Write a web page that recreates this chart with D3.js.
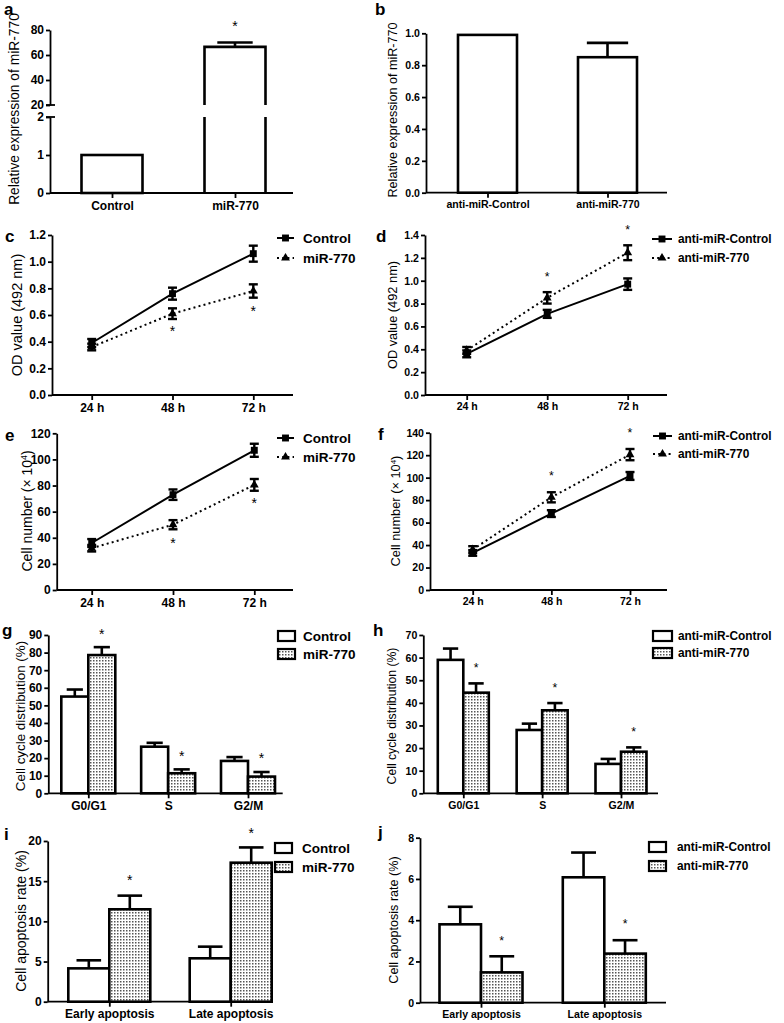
<!DOCTYPE html>
<html><head><meta charset="utf-8">
<script src="https://cdn.jsdelivr.net/npm/d3@7"></script>
<style>
body{margin:0;background:#fff}
svg text{font-family:"Liberation Sans",Arial,Helvetica,sans-serif;fill:#000}
</style>
</head><body>
<svg id="chart" width="784" height="1023"></svg>
<script>
// ---------------- DATA ----------------
// a
const aCategories = ["Control", "miR-770"];
const aValues = [1, 66.5];
const aErrors = [0, 3.5];
const aStars = [null, 85.6];
const aLowTicks = [0, 1, 2];
const aHighTicks = [20, 40, 60, 80];
// b
const bCategories = ["anti-miR-Control", "anti-miR-770"];
const bValues = [0.99, 0.85];
const bErrors = [0, 0.09];
const bTicks = [0, 0.2, 0.4, 0.6, 0.8, 1.0];
// c, d, e, f (time course)
const timeLabels = ["24 h", "48 h", "72 h"];
const cControl = [0.39, 0.76, 1.06];
const cControlErr = [0.03, 0.045, 0.06];
const cMiR = [0.36, 0.61, 0.78];
const cMiRErr = [0.025, 0.04, 0.05];
const cStars = [null, 0.50, 0.655];
const cTicks = [0, 0.2, 0.4, 0.6, 0.8, 1.0, 1.2];
const dControl = [0.36, 0.71, 0.97];
const dControlErr = [0.03, 0.035, 0.05];
const dAnti = [0.39, 0.85, 1.245];
const dAntiErr = [0.03, 0.05, 0.065];
const dStars = [null, 1.06, 1.47];
const dTicks = [0, 0.2, 0.4, 0.6, 0.8, 1.0, 1.2, 1.4];
const eControl = [36, 73, 107];
const eControlErr = [3, 4, 5];
const eMiR = [32, 50, 80.5];
const eMiRErr = [2.5, 3.5, 4.5];
const eStars = [null, 38, 69];
const eTicks = [0, 20, 40, 60, 80, 100, 120];
const fControl = [33, 68, 101.5];
const fControlErr = [2.5, 3, 3.5];
const fAnti = [36, 82.5, 120.5];
const fAntiErr = [3, 4.5, 5];
const fStars = [null, 104, 142];
const fTicks = [0, 20, 40, 60, 80, 100, 120, 140];
// g, h (cell cycle)
const phases = ["G0/G1", "S", "G2/M"];
const gControl = [55, 26.5, 18.4];
const gControlErr = [4, 2.2, 2.2];
const gMiR = [78.6, 11.4, 9.5];
const gMiRErr = [4.5, 2.2, 2.6];
const gStars = [92, 23, 21.8];
const gTicks = [0, 10, 20, 30, 40, 50, 60, 70, 80, 90];
const hControl = [59, 28, 13];
const hControlErr = [5, 2.8, 2.2];
const hAnti = [44.5, 36.7, 18.4];
const hAntiErr = [4.1, 3.2, 1.9];
const hStars = [56.7, 47.9, 28.3];
const hTicks = [0, 10, 20, 30, 40, 50, 60, 70];
// i, j (apoptosis)
const apopCategories = ["Early apoptosis", "Late apoptosis"];
const iControl = [4.15, 5.4];
const iControlErr = [1.0, 1.45];
const iMiR = [11.5, 17.3];
const iMiRErr = [1.7, 1.9];
const iStars = [15.5, 21.4];
const iTicks = [0, 5, 10, 15, 20];
const jControl = [3.8, 6.08];
const jControlErr = [0.85, 1.2];
const jAnti = [1.47, 2.38];
const jAntiErr = [0.78, 0.65];
const jStars = [3.15, 3.96];
const jTicks = [0, 2, 4, 6, 8];

// ---------------- DRAWING ----------------
const svg = d3.select("#chart");
const defs = svg.append("defs");
const pat = defs.append("pattern").attr("id", "dots").attr("width", 3).attr("height", 3)
  .attr("patternUnits", "userSpaceOnUse");
pat.append("rect").attr("width", 3).attr("height", 3).attr("fill", "#fff");
pat.append("rect").attr("width", 1.5).attr("height", 1.5).attr("fill", "#555");

const STROKE = 2.6;

function styleAxis(g, s) {
  g.selectAll("path.domain").attr("stroke", "#000").attr("stroke-width", 1.8);
  g.selectAll("line").attr("stroke", "#000").attr("stroke-width", 1.8);
  g.selectAll("text").attr("font-weight", "bold").attr("font-size", 12 * s)
    .attr("font-family", '"Liberation Sans",Arial,sans-serif').attr("fill", "#000");
}
function yAxis(scale, ticks, fmt, x, s) {
  const g = svg.append("g").attr("transform", `translate(${x},0)`)
    .call(d3.axisLeft(scale).tickValues(ticks).tickFormat(fmt).tickSizeInner(4).tickSizeOuter(0).tickPadding(2));
  styleAxis(g, s);
  return g;
}
function xAxis(scale, x0, x1, y, s) {
  const g = svg.append("g").attr("transform", `translate(0,${y})`)
    .call(d3.axisBottom(scale).tickSizeInner(5).tickSizeOuter(0).tickPadding(3));
  g.select("path.domain").remove();
  g.append("line").attr("x1", x0).attr("x2", x1).attr("y1", 0).attr("y2", 0);
  styleAxis(g, s);
  return g;
}
function yTitle(x, y, size, parts) {
  const t = svg.append("text").attr("transform", `translate(${x},${y}) rotate(-90)`)
    .attr("text-anchor", "middle").attr("font-size", size);
  parts.forEach(p => {
    const ts = t.append("tspan").text(p.t);
    if (p.sup) ts.attr("font-size", size * 0.62).attr("baseline-shift", "super");
  });
}
function letter(x, y, ch) {
  svg.append("text").attr("x", x).attr("y", y).attr("font-size", 17).attr("font-weight", "bold").text(ch);
}
function star(x, yc, s) {
  svg.append("text").attr("x", x).attr("y", yc + 8 * s).attr("text-anchor", "middle")
    .attr("font-size", 14 * s).text("*");
}
function upErr(cx, yTop, yCap, capW) {
  svg.append("line").attr("x1", cx).attr("x2", cx).attr("y1", yTop).attr("y2", yCap)
    .attr("stroke", "#000").attr("stroke-width", STROKE);
  svg.append("line").attr("x1", cx - capW / 2).attr("x2", cx + capW / 2).attr("y1", yCap).attr("y2", yCap)
    .attr("stroke", "#000").attr("stroke-width", STROKE);
}

// ---- Panel a (broken axis) ----
(function () {
  const s = 1;
  const yLow = d3.scaleLinear().domain([0, 2]).range([193, 117]);
  const yHigh = d3.scaleLinear().domain([20, 80]).range([105, 30]);
  const x = d3.scalePoint().domain(aCategories).range([112, 235]);
  const w = 61;
  yAxis(yLow, aLowTicks, d3.format("d"), 50, s);
  yAxis(yHigh, aHighTicks, d3.format("d"), 50, s);
  [yHigh(20), yLow(2)].forEach(yy => svg.append("line").attr("x1", 46).attr("x2", 55)
    .attr("y1", yy).attr("y2", yy).attr("stroke", "#000").attr("stroke-width", 1.8));
  xAxis(x, 50, 293, 193, s);
  aValues.forEach((v, i) => {
    const cx = x(aCategories[i]), l = cx - w / 2, r = cx + w / 2;
    if (v <= 2) {
      svg.append("rect").attr("x", l).attr("y", yLow(v)).attr("width", w).attr("height", yLow(0) - yLow(v))
        .attr("fill", "#fff").attr("stroke", "#000").attr("stroke-width", STROKE);
      if (aErrors[i] > 0) upErr(cx, yLow(v), yLow(v + aErrors[i]), w * 0.58);
    } else {
      svg.append("path").attr("d", `M${l},${yLow(0)}V${yLow(2)}M${r},${yLow(0)}V${yLow(2)}`)
        .attr("fill", "none").attr("stroke", "#000").attr("stroke-width", STROKE);
      svg.append("path").attr("d", `M${l},${yHigh(20)}V${yHigh(v)}H${r}V${yHigh(20)}`)
        .attr("fill", "none").attr("stroke", "#000").attr("stroke-width", STROKE);
      if (aErrors[i] > 0) upErr(cx, yHigh(v), yHigh(v + aErrors[i]), w * 0.58);
    }
    if (aStars[i] != null) star(cx, aStars[i] > 2 ? yHigh(aStars[i]) : yLow(aStars[i]), s);
  });
  yTitle(19, 109, 13.8, [{ t: "Relative expression of miR-770" }]);
  letter(4, 15, "a");
})();

// ---- generic grouped bar panel ----
function barPanel(p) {
  const s = p.s;
  const y = d3.scaleLinear().domain(p.yDomain).range([p.yBottom, p.yTop]);
  const x = d3.scalePoint().domain(p.categories).range(p.centers);
  yAxis(y, p.ticks, p.fmt, p.x0, s);
  xAxis(x, p.x0, p.x1, p.yBottom, s);
  const n = p.series.length;
  p.series.forEach((sr, si) => {
    p.categories.forEach((c, i) => {
      const l = x(c) - n * p.w / 2 + si * p.w, cx = l + p.w / 2;
      const v = sr.values[i];
      svg.append("rect").attr("x", l).attr("y", y(v)).attr("width", p.w).attr("height", y(0) - y(v))
        .attr("fill", sr.fill).attr("stroke", "#000").attr("stroke-width", STROKE);
      if (sr.errors[i] > 0) upErr(cx, y(v), y(v + sr.errors[i]), p.w * p.cap);
      if (sr.stars && sr.stars[i] != null) star(cx, y(sr.stars[i]), s);
    });
  });
  if (p.legend) {
    p.series.forEach((sr, si) => {
      const yy = p.legend.ys[si];
      svg.append("rect").attr("x", p.legend.x).attr("y", yy - 5).attr("width", p.legend.w).attr("height", 10)
        .attr("fill", sr.fill).attr("stroke", "#000").attr("stroke-width", 2.2);
      svg.append("text").attr("x", p.legend.tx).attr("y", yy + 13.5 * s * 0.36)
        .attr("font-size", 13.5 * s).attr("font-weight", "bold").text(sr.name);
    });
  }
  yTitle(p.titleX, p.titleY, p.ts, p.title);
  letter(p.letter[0], p.letter[1], p.letter[2]);
}

// ---- generic line panel ----
function linePanel(p) {
  const s = p.s;
  const y = d3.scaleLinear().domain(p.yDomain).range([p.yBottom, p.yTop]);
  const x = d3.scalePoint().domain(timeLabels).range(p.centers);
  yAxis(y, p.ticks, p.fmt, p.x0, s);
  xAxis(x, p.x0, p.x1, p.yBottom, s);
  p.series.forEach(sr => {
    const line = d3.line().x((d, i) => x(timeLabels[i])).y(d => y(d));
    svg.append("path").datum(sr.values).attr("d", line).attr("fill", "none").attr("stroke", "#000")
      .attr("stroke-width", 2).attr("stroke-dasharray", sr.dashed ? "2,3.2" : null);
    sr.values.forEach((v, i) => {
      const cx = x(timeLabels[i]), e = sr.errors[i];
      svg.append("line").attr("x1", cx).attr("x2", cx).attr("y1", y(v - e)).attr("y2", y(v + e))
        .attr("stroke", "#000").attr("stroke-width", 2.4);
      [v - e, v + e].forEach(vv => svg.append("line").attr("x1", cx - 4.5).attr("x2", cx + 4.5)
        .attr("y1", y(vv)).attr("y2", y(vv)).attr("stroke", "#000").attr("stroke-width", 2.4));
    });
    svg.append("g").selectAll("path").data(sr.values).join("path")
      .attr("transform", (d, i) => `translate(${x(timeLabels[i])},${y(d)})`)
      .attr("d", d3.symbol(sr.symbol, sr.symSize)()).attr("fill", "#000");
  });
  p.stars.forEach((st, i) => { if (st != null) star(x(timeLabels[i]), y(st), s); });
  p.series.forEach((sr, si) => {
    const yy = p.legend.ys[si], lx = p.legend.x, lw = p.legend.w;
    svg.append("line").attr("x1", lx).attr("x2", lx + lw).attr("y1", yy).attr("y2", yy)
      .attr("stroke", "#000").attr("stroke-width", 2).attr("stroke-dasharray", sr.dashed ? "2,3.2" : null);
    svg.append("path").attr("transform", `translate(${lx + lw / 2},${yy})`)
      .attr("d", d3.symbol(sr.symbol, sr.symSize)()).attr("fill", "#000");
    svg.append("text").attr("x", p.legend.tx).attr("y", yy + 13.5 * s * 0.36)
      .attr("font-size", 13.5 * s).attr("font-weight", "bold").text(sr.name);
  });
  yTitle(p.titleX, p.titleY, p.ts, p.title);
  letter(p.letter[0], p.letter[1], p.letter[2]);
}

const L = 1, R = 0.88;

// ---- Panel b ----
barPanel({
  s: R, categories: bCategories, centers: [487.5, 607.5], w: 59, cap: 0.7,
  yDomain: [0, 1], yBottom: 192.7, yTop: 33.3, ticks: bTicks, fmt: d3.format(".1f"),
  x0: 426, x1: 667,
  series: [{ values: bValues, errors: bErrors, fill: "#fff" }],
  titleX: 397, titleY: 110, ts: 12.6, title: [{ t: "Relative expression of miR-770" }],
  letter: [375, 15, "b"]
});

// ---- Panel c ----
linePanel({
  s: L, centers: [91.7, 253.3], yDomain: [0, 1.2], yBottom: 395, yTop: 235, ticks: cTicks,
  fmt: d3.format(".1f"), x0: 52, x1: 293,
  series: [
    { name: "Control", values: cControl, errors: cControlErr, dashed: false, symbol: d3.symbolSquare, symSize: 48 },
    { name: "miR-770", values: cMiR, errors: cMiRErr, dashed: true, symbol: d3.symbolTriangle, symSize: 34 }
  ],
  stars: cStars, legend: { x: 277, w: 17, tx: 303, ys: [238, 258] },
  titleX: 22, titleY: 315, ts: 14.5, title: [{ t: "OD value (492 nm)" }], letter: [5, 242, "c"]
});

// ---- Panel d ----
linePanel({
  s: R, centers: [466.7, 627.7], yDomain: [0, 1.4], yBottom: 395, yTop: 235, ticks: dTicks,
  fmt: d3.format(".1f"), x0: 425, x1: 667,
  series: [
    { name: "anti-miR-Control", values: dControl, errors: dControlErr, dashed: false, symbol: d3.symbolSquare, symSize: 48 },
    { name: "anti-miR-770", values: dAnti, errors: dAntiErr, dashed: true, symbol: d3.symbolTriangle, symSize: 34 }
  ],
  stars: dStars, legend: { x: 652, w: 20, tx: 678, ys: [239, 258] },
  titleX: 397, titleY: 315, ts: 12.8, title: [{ t: "OD value (492 nm)" }], letter: [376, 242, "d"]
});

// ---- Panel e ----
linePanel({
  s: L, centers: [91.7, 254.3], yDomain: [0, 120], yBottom: 590, yTop: 433.3, ticks: eTicks,
  fmt: d3.format("d"), x0: 56.7, x1: 293,
  series: [
    { name: "Control", values: eControl, errors: eControlErr, dashed: false, symbol: d3.symbolSquare, symSize: 48 },
    { name: "miR-770", values: eMiR, errors: eMiRErr, dashed: true, symbol: d3.symbolTriangle, symSize: 34 }
  ],
  stars: eStars, legend: { x: 277, w: 17, tx: 303, ys: [438, 457] },
  titleX: 32, titleY: 511, ts: 14, title: [{ t: "Cell number (× 10" }, { t: "4", sup: true }, { t: ")" }],
  letter: [5, 441, "e"]
});

// ---- Panel f ----
linePanel({
  s: R, centers: [472.7, 630], yDomain: [0, 140], yBottom: 590, yTop: 432.7, ticks: fTicks,
  fmt: d3.format("d"), x0: 430, x1: 667,
  series: [
    { name: "anti-miR-Control", values: fControl, errors: fControlErr, dashed: false, symbol: d3.symbolSquare, symSize: 48 },
    { name: "anti-miR-770", values: fAnti, errors: fAntiErr, dashed: true, symbol: d3.symbolTriangle, symSize: 34 }
  ],
  stars: fStars, legend: { x: 653, w: 19, tx: 678, ys: [436, 454] },
  titleX: 400, titleY: 511, ts: 12.8, title: [{ t: "Cell number (× 10" }, { t: "4", sup: true }, { t: ")" }],
  letter: [378, 440, "f"]
});

// ---- Panel g ----
barPanel({
  s: L, categories: phases, centers: [88.3, 248], w: 27, cap: 0.6,
  yDomain: [0, 90], yBottom: 793.3, yTop: 635, ticks: gTicks, fmt: d3.format("d"),
  x0: 48.3, x1: 282.7,
  series: [
    { name: "Control", values: gControl, errors: gControlErr, fill: "#fff" },
    { name: "miR-770", values: gMiR, errors: gMiRErr, fill: "url(#dots)", stars: gStars }
  ],
  legend: { x: 278, w: 17, tx: 303, ys: [636, 654] },
  titleX: 25, titleY: 716, ts: 13.4, title: [{ t: "Cell cycle distribution (%)" }], letter: [2, 636, "g"]
});

// ---- Panel h ----
barPanel({
  s: R, categories: phases, centers: [463.3, 621], w: 25.5, cap: 0.6,
  yDomain: [0, 70], yBottom: 793.3, yTop: 635, ticks: hTicks, fmt: d3.format("d"),
  x0: 423.3, x1: 658,
  series: [
    { name: "anti-miR-Control", values: hControl, errors: hControlErr, fill: "#fff" },
    { name: "anti-miR-770", values: hAnti, errors: hAntiErr, fill: "url(#dots)", stars: hStars }
  ],
  legend: { x: 653, w: 19, tx: 678, ys: [636, 653] },
  titleX: 396, titleY: 716, ts: 12.2, title: [{ t: "Cell cycle distribution (%)" }], letter: [373, 636, "h"]
});

// ---- Panel i ----
barPanel({
  s: L, categories: apopCategories, centers: [109.3, 230.7], w: 41, cap: 0.6,
  yDomain: [0, 20], yBottom: 1001.7, yTop: 841, ticks: iTicks, fmt: d3.format("d"),
  x0: 47.7, x1: 273,
  series: [
    { name: "Control", values: iControl, errors: iControlErr, fill: "#fff" },
    { name: "miR-770", values: iMiR, errors: iMiRErr, fill: "url(#dots)", stars: iStars }
  ],
  legend: { x: 275, w: 17, tx: 302, ys: [848, 867] },
  titleX: 26, titleY: 921, ts: 14, title: [{ t: "Cell apoptosis rate (%)" }], letter: [4, 840, "i"]
});

// ---- Panel j ----
barPanel({
  s: R, categories: apopCategories, centers: [481, 604.3], w: 41.5, cap: 0.6,
  yDomain: [0, 8], yBottom: 1002.7, yTop: 837.7, ticks: jTicks, fmt: d3.format("d"),
  x0: 420, x1: 666,
  series: [
    { name: "anti-miR-Control", values: jControl, errors: jControlErr, fill: "#fff" },
    { name: "anti-miR-770", values: jAnti, errors: jAntiErr, fill: "url(#dots)", stars: jStars }
  ],
  legend: { x: 649, w: 17, tx: 677, ys: [847, 866] },
  titleX: 398, titleY: 920, ts: 12.6, title: [{ t: "Cell apoptosis rate (%)" }], letter: [378, 838, "j"]
});
</script>
</body></html>
